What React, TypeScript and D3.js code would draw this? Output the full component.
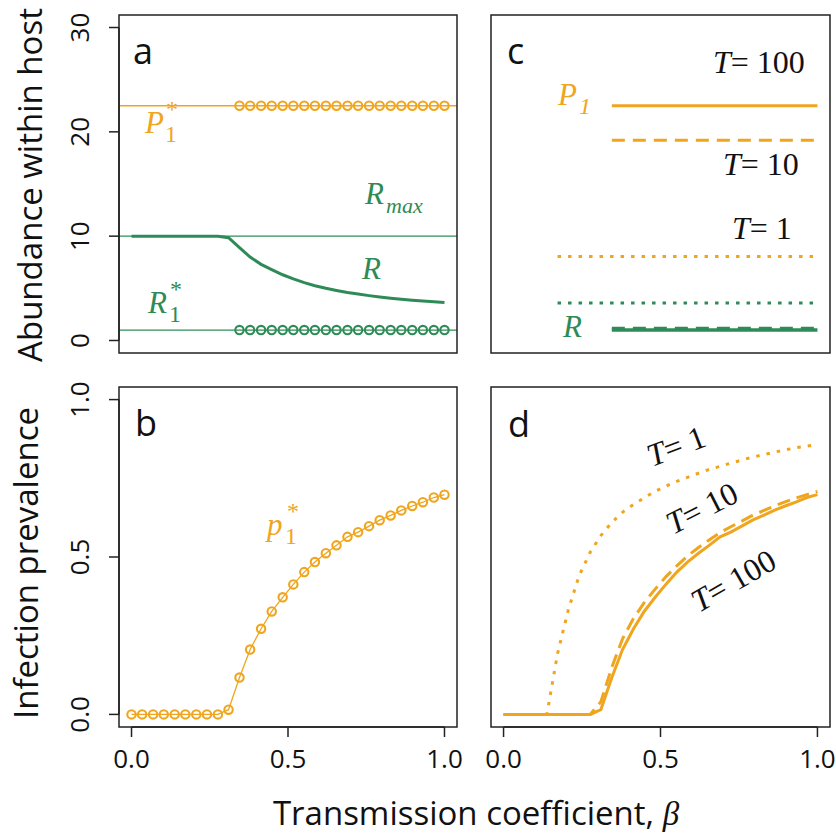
import * as d3 from "d3";
import React from "react";

// transmission coefficient grid (30 runs)
const beta = [
  0, 0.034, 0.069, 0.103, 0.138, 0.172, 0.207, 0.241, 0.276, 0.31,
  0.345, 0.379, 0.414, 0.448, 0.483, 0.517, 0.552, 0.586, 0.621, 0.655,
  0.69, 0.724, 0.759, 0.793, 0.828, 0.862, 0.897, 0.931, 0.966, 1.0,
];

// panel a
const p1StarAbund = [
  null, null, null, null, null, null, null, null, null, null,
  22.5, 22.5, 22.5, 22.5, 22.5, 22.5, 22.5, 22.5, 22.5, 22.5,
  22.5, 22.5, 22.5, 22.5, 22.5, 22.5, 22.5, 22.5, 22.5, 22.5,
];
const r1StarAbund = [
  null, null, null, null, null, null, null, null, null, null,
  1, 1, 1, 1, 1, 1, 1, 1, 1, 1,
  1, 1, 1, 1, 1, 1, 1, 1, 1, 1,
];
const resource = [
  10, 10, 10, 10, 10, 10, 10, 10, 10, 9.85,
  8.9, 8.0, 7.3, 6.8, 6.3, 5.9, 5.55, 5.25, 5.0, 4.8,
  4.6, 4.45, 4.3, 4.17, 4.05, 3.95, 3.86, 3.78, 3.71, 3.64,
];
const p1StarLine = 22.5;
const rMaxLine = 10;
const r1StarLine = 1;

// panel b (also T = 100 in panel d)
const prevalence = [
  0, 0, 0, 0, 0, 0, 0, 0, 0, 0.015,
  0.117, 0.206, 0.272, 0.327, 0.372, 0.413, 0.452, 0.484, 0.512, 0.537,
  0.564, 0.579, 0.598, 0.617, 0.632, 0.648, 0.662, 0.674, 0.689, 0.698,
];

// panel c
const p1T100 = [
  null, null, null, null, null, null, null, null, null, null,
  22.5, 22.5, 22.5, 22.5, 22.5, 22.5, 22.5, 22.5, 22.5, 22.5,
  22.5, 22.5, 22.5, 22.5, 22.5, 22.5, 22.5, 22.5, 22.5, 22.5,
];
const p1T10 = [
  null, null, null, null, null, null, null, null, null, null,
  19.2, 19.2, 19.2, 19.2, 19.2, 19.2, 19.2, 19.2, 19.2, 19.2,
  19.2, 19.2, 19.2, 19.2, 19.2, 19.2, 19.2, 19.2, 19.2, 19.2,
];
const p1T1 = [
  null, null, null, null, null, 8.05, 8.05, 8.05, 8.05, 8.05,
  8.05, 8.05, 8.05, 8.05, 8.05, 8.05, 8.05, 8.05, 8.05, 8.05,
  8.05, 8.05, 8.05, 8.05, 8.05, 8.05, 8.05, 8.05, 8.05, 8.05,
];
const rT100 = [
  null, null, null, null, null, null, null, null, null, null,
  1.0, 1.0, 1.0, 1.0, 1.0, 1.0, 1.0, 1.0, 1.0, 1.0,
  1.0, 1.0, 1.0, 1.0, 1.0, 1.0, 1.0, 1.0, 1.0, 1.0,
];
const rT10 = [
  null, null, null, null, null, null, null, null, null, null,
  1.15, 1.15, 1.15, 1.15, 1.15, 1.15, 1.15, 1.15, 1.15, 1.15,
  1.15, 1.15, 1.15, 1.15, 1.15, 1.15, 1.15, 1.15, 1.15, 1.15,
];
const rT1 = [
  null, null, null, null, null, 3.6, 3.6, 3.6, 3.6, 3.6,
  3.6, 3.6, 3.6, 3.6, 3.6, 3.6, 3.6, 3.6, 3.6, 3.6,
  3.6, 3.6, 3.6, 3.6, 3.6, 3.6, 3.6, 3.6, 3.6, 3.6,
];

// panel d
const prevT10 = [
  0, 0, 0, 0, 0, 0, 0, 0, 0, 0.04,
  0.15, 0.24, 0.305, 0.355, 0.398, 0.437, 0.472, 0.503, 0.53, 0.554,
  0.578, 0.596, 0.614, 0.632, 0.647, 0.662, 0.675, 0.687, 0.698, 0.708,
];
const prevT1 = [
  0, 0, 0, 0, 0, 0.193, 0.335, 0.441, 0.515, 0.568,
  0.61, 0.642, 0.667, 0.688, 0.709, 0.725, 0.74, 0.753, 0.766, 0.778,
  0.788, 0.798, 0.808, 0.817, 0.825, 0.833, 0.84, 0.847, 0.852, 0.857,
];

const xTicks = [0, 0.5, 1];
const abundTicks = [0, 10, 20, 30];
const prevTicks = [0, 0.5, 1];

const ORANGE = "#F0A51E";
const GREEN = "#2E8B57";
const SANS = "'Open Sans', 'Noto Sans', sans-serif";
const SERIF = "'Liberation Serif', 'DejaVu Serif', serif";

const cols = [
  { left: 119, right: 457 },
  { left: 491, right: 830 },
];
const rows = [
  { top: 15, bottom: 353 },
  { top: 387, bottom: 727 },
];

// R style: 4% padding around the data range
function padScale(lo: number, hi: number, r0: number, r1: number) {
  const pad = (hi - lo) * 0.04;
  return d3.scaleLinear().domain([lo - pad, hi + pad]).range([r0, r1]);
}

const xs = cols.map((c) => padScale(0, 1, c.left, c.right));
const yAbund = padScale(0, 30, rows[0].bottom, rows[0].top);
const yPrev = padScale(0, 1, rows[1].bottom, rows[1].top);

function pathOf(x: any, y: any, vals: (number | null)[]) {
  const line = d3
    .line<[number, number | null]>()
    .defined((d) => d[1] != null)
    .x((d) => x(d[0]))
    .y((d) => y(d[1] as number));
  return line(beta.map((b, i) => [b, vals[i]]) as any) || "";
}

function Circles({ x, y, vals, color }: any) {
  return (
    <g>
      {beta.map((b, i) =>
        vals[i] == null ? null : (
          <circle key={i} cx={x(b)} cy={y(vals[i])} r={4.2} fill="none" stroke={color} strokeWidth={2.1} />
        )
      )}
    </g>
  );
}

function Box({ col, row }: { col: number; row: number }) {
  const c = cols[col];
  const r = rows[row];
  return (
    <rect x={c.left} y={r.top} width={c.right - c.left} height={r.bottom - r.top} fill="none" stroke="#222" strokeWidth={1.5} />
  );
}

function YAxis({ y, ticks, fmt, left }: any) {
  return (
    <g>
      <line x1={left} x2={left} y1={y(ticks[0])} y2={y(ticks[ticks.length - 1])} stroke="#222" strokeWidth={1.5} />
      {ticks.map((t: number) => (
        <g key={t}>
          <line x1={left - 10} x2={left} y1={y(t)} y2={y(t)} stroke="#222" strokeWidth={1.5} />
          <text
            transform={`translate(${left - 30},${y(t)}) rotate(-90)`}
            textAnchor="middle"
            fontFamily={SANS}
            fontSize={26}
            fill="#111"
          >
            {fmt(t)}
          </text>
        </g>
      ))}
    </g>
  );
}

function XAxis({ x, bottom }: any) {
  return (
    <g>
      <line x1={x(xTicks[0])} x2={x(xTicks[xTicks.length - 1])} y1={bottom} y2={bottom} stroke="#222" strokeWidth={1.5} />
      {xTicks.map((t) => (
        <g key={t}>
          <line x1={x(t)} x2={x(t)} y1={bottom} y2={bottom + 10} stroke="#222" strokeWidth={1.5} />
          <text x={x(t)} y={bottom + 41} textAnchor="middle" fontFamily={SANS} fontSize={26} fill="#111">
            {d3.format(".1f")(t)}
          </text>
        </g>
      ))}
    </g>
  );
}

function Star({ x, y, base, sub, sup, subX, supX, color, baseStyle = "italic", subStyle = "normal" }: any) {
  return (
    <g fill={color} fontFamily={SERIF}>
      <text x={x} y={y} fontSize={31} fontStyle={baseStyle}>{base}</text>
      {sub && <text x={subX} y={y + 9} fontSize={24} fontStyle={subStyle}>{sub}</text>}
      {sup && <text x={supX} y={y - 16} fontSize={24}>{sup}</text>}
    </g>
  );
}

function TLabel({ x, y, n, rot = 0 }: any) {
  return (
    <text transform={`translate(${x},${y}) rotate(${rot})`} fontFamily={SERIF} fontSize={32} fill="#111">
      <tspan fontStyle="italic">T</tspan>= {n}
    </text>
  );
}

export default function App() {
  const xa = xs[0];
  const xc = xs[1];
  const hline = (col: number, y: any, v: number, color: string) => (
    <line x1={cols[col].left} x2={cols[col].right} y1={y(v)} y2={y(v)} stroke={color} strokeWidth={1.3} />
  );
  return (
    <svg width={836} height={835} style={{ position: "absolute", left: 0, top: 0, background: "#fff" }}>
      {/* panel a */}
      {hline(0, yAbund, p1StarLine, ORANGE)}
      {hline(0, yAbund, rMaxLine, GREEN)}
      {hline(0, yAbund, r1StarLine, GREEN)}
      <path d={pathOf(xa, yAbund, resource)} fill="none" stroke={GREEN} strokeWidth={3} />
      <Circles x={xa} y={yAbund} vals={p1StarAbund} color={ORANGE} />
      <Circles x={xa} y={yAbund} vals={r1StarAbund} color={GREEN} />
      <Box col={0} row={0} />
      <YAxis y={yAbund} ticks={abundTicks} fmt={(t: number) => String(t)} left={cols[0].left} />
      <text x={133} y={64} fontFamily={SANS} fontSize={36} fill="#111">a</text>
      <Star x={145} y={133} base="P" sub="1" sup="*" subX={165} supX={166} color={ORANGE} />
      <g fill={GREEN} fontFamily={SERIF}>
        <text x={365} y={204} fontSize={31} fontStyle="italic">R</text>
        <text x={386} y={213} fontSize={22} fontStyle="italic">max</text>
        <text x={362} y={279} fontSize={31} fontStyle="italic">R</text>
      </g>
      <Star x={148} y={313} base="R" sub="1" sup="*" subX={169} supX={170} color={GREEN} />

      {/* panel c */}
      <path d={pathOf(xc, yAbund, p1T100)} fill="none" stroke={ORANGE} strokeWidth={3} />
      <path d={pathOf(xc, yAbund, p1T10)} fill="none" stroke={ORANGE} strokeWidth={3} strokeDasharray="13,8" />
      <path d={pathOf(xc, yAbund, p1T1)} fill="none" stroke={ORANGE} strokeWidth={3} strokeDasharray="3.5,7" />
      <path d={pathOf(xc, yAbund, rT1)} fill="none" stroke={GREEN} strokeWidth={3} strokeDasharray="3.5,7" />
      <path d={pathOf(xc, yAbund, rT100)} fill="none" stroke={GREEN} strokeWidth={3.5} />
      <path d={pathOf(xc, yAbund, rT10)} fill="none" stroke={GREEN} strokeWidth={3.5} strokeDasharray="13,8" />
      <Box col={1} row={0} />
      <text x={507} y={64} fontFamily={SANS} fontSize={36} fill="#111">c</text>
      <TLabel x={713} y={73} n="100" />
      <TLabel x={723} y={175} n="10" />
      <TLabel x={732} y={239} n="1" />
      <Star x={558} y={105} base="P" sub="1" subX={579} color={ORANGE} subStyle="italic" />
      <text x={563} y={337} fontFamily={SERIF} fontSize={31} fontStyle="italic" fill={GREEN}>R</text>

      {/* panel b */}
      <path d={pathOf(xa, yPrev, prevalence)} fill="none" stroke={ORANGE} strokeWidth={1.3} />
      <Circles x={xa} y={yPrev} vals={prevalence} color={ORANGE} />
      <Box col={0} row={1} />
      <YAxis y={yPrev} ticks={prevTicks} fmt={d3.format(".1f")} left={cols[0].left} />
      <XAxis x={xa} bottom={rows[1].bottom} />
      <text x={135} y={436} fontFamily={SANS} fontSize={36} fill="#111">b</text>
      <Star x={267} y={535} base="p" sub="1" sup="*" subX={285} supX={287} color={ORANGE} />

      {/* panel d */}
      <path d={pathOf(xc, yPrev, prevT1)} fill="none" stroke={ORANGE} strokeWidth={3} strokeDasharray="3.5,7" />
      <path d={pathOf(xc, yPrev, prevalence)} fill="none" stroke={ORANGE} strokeWidth={3} />
      <path d={pathOf(xc, yPrev, prevT10)} fill="none" stroke={ORANGE} strokeWidth={3} strokeDasharray="13,7" />
      <Box col={1} row={1} />
      <XAxis x={xc} bottom={rows[1].bottom} />
      <text x={508} y={437} fontFamily={SANS} fontSize={36} fill="#111">d</text>
      <TLabel x={652} y={467} n="1" rot={-21} />
      <TLabel x={673} y={535} n="10" rot={-27} />
      <TLabel x={699} y={613} n="100" rot={-30} />

      {/* axis titles */}
      <text transform="translate(42,185) rotate(-90)" textAnchor="middle" fontFamily={SANS} fontSize={33} fill="#111">
        Abundance within host
      </text>
      <text transform="translate(38,563) rotate(-90)" textAnchor="middle" fontFamily={SANS} fontSize={33} fill="#111">
        Infection prevalence
      </text>
      <text x={476} y={825} textAnchor="middle" fontFamily={SANS} fontSize={33} fill="#111">
        Transmission coefficient, <tspan fontFamily={SERIF} fontStyle="italic">β</tspan>
      </text>
    </svg>
  );
}
